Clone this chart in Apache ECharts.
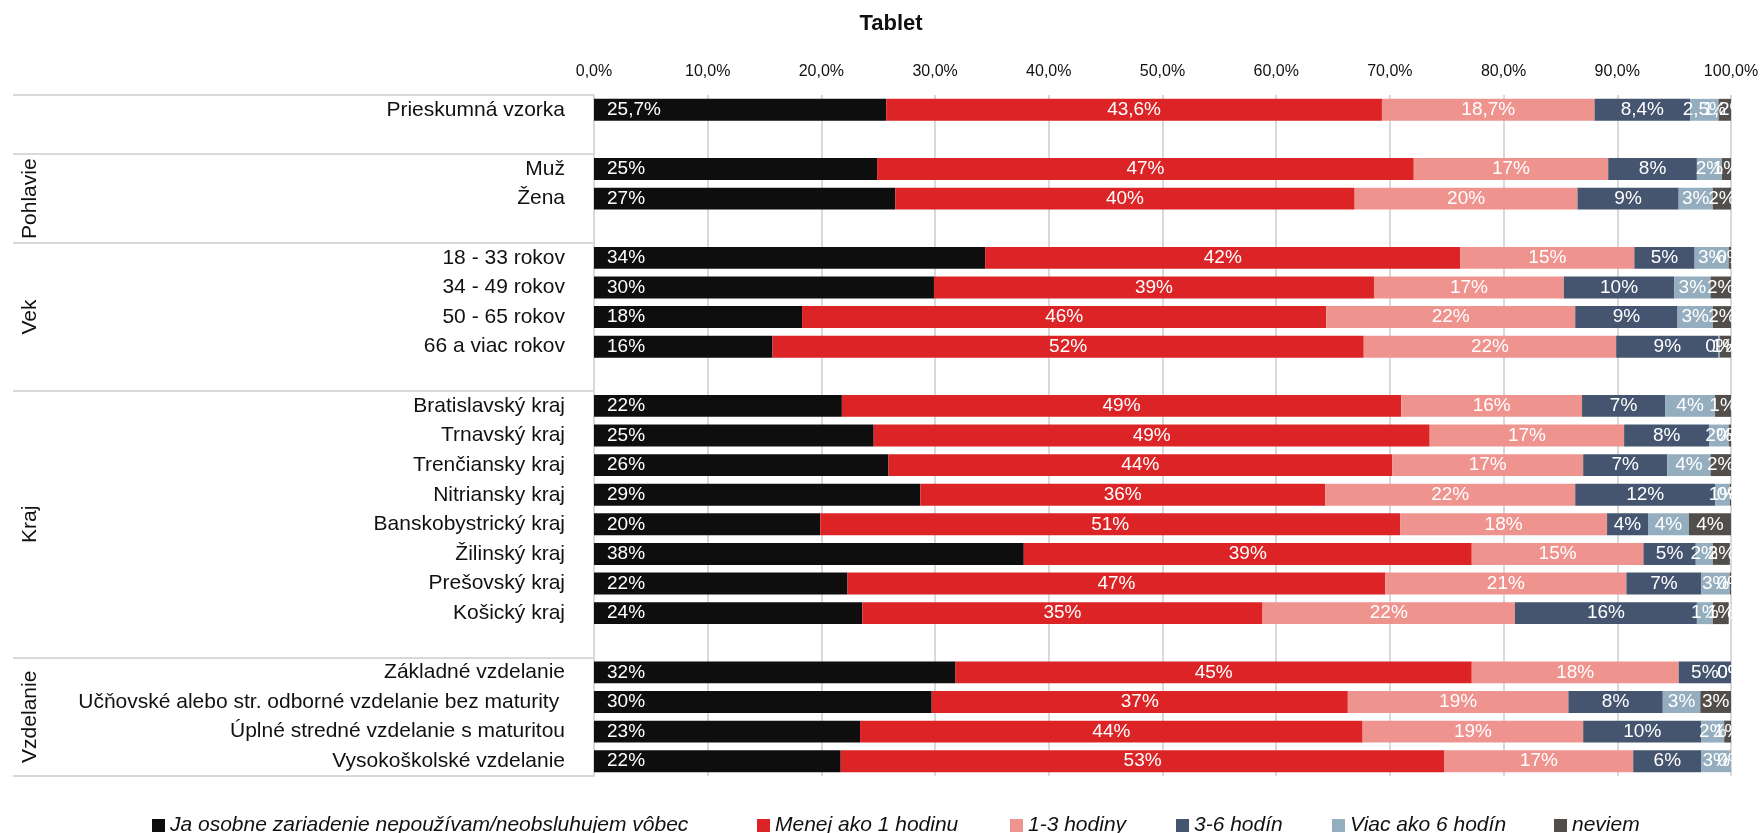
<!DOCTYPE html>
<html>
<head>
<meta charset="utf-8">
<script src="https://cdn.jsdelivr.net/npm/echarts@6/dist/echarts.min.js"></script>
<style>
  html, body { margin: 0; padding: 0; background: #fff; }
  #chart { width: 1760px; height: 833px; }
</style>
</head>
<body>
<div id="chart"></div>
<script>
// ---------- DATA ----------
const chartTitle = 'Tablet';
const groupNames = ['', 'Pohlavie', 'Vek', 'Kraj', 'Vzdelanie'];
const groupRows = [
  ['Prieskumná vzorka'],
  ['Muž', 'Žena'],
  ['18 - 33 rokov', '34 - 49 rokov', '50 - 65 rokov', '66 a viac rokov'],
  ['Bratislavský kraj', 'Trnavský kraj', 'Trenčiansky kraj', 'Nitriansky kraj',
   'Banskobystrický kraj', 'Žilinský kraj', 'Prešovský kraj', 'Košický kraj'],
  ['Základné vzdelanie', 'Učňovské alebo str. odborné vzdelanie bez maturity ',
   'Úplné stredné vzdelanie s maturitou', 'Vysokoškolské vzdelanie']
];
const groupLabelDecimals = [1, 0, 0, 0, 0];
const seriesNames = [
  'Ja osobne zariadenie nepoužívam/neobsluhujem vôbec',
  'Menej ako 1 hodinu',
  '1-3 hodiny',
  '3-6 hodín',
  'Viac ako 6 hodín',
  'neviem'
];
// values in %, rows in the order of groupRows
const notUsing  = [25.7, 24.9, 26.5, 34.4, 29.9, 18.3, 15.7, 21.8, 24.6, 25.9, 28.7, 19.9, 37.8, 22.3, 23.6, 31.8, 29.7, 23.4, 21.7];
const under1h   = [43.6, 47.2, 40.4, 41.8, 38.7, 46.1, 52.0, 49.2, 48.9, 44.3, 35.6, 51.0, 39.4, 47.3, 35.2, 45.4, 36.6, 44.2, 53.1];
const h1to3     = [18.7, 17.1, 19.6, 15.3, 16.7, 21.9, 22.2, 15.9, 17.1, 16.8, 22.0, 18.2, 15.1, 21.2, 22.2, 18.2, 19.4, 19.4, 16.6];
const h3to6     = [8.4, 7.8, 8.9, 5.3, 9.7, 9.0, 9.0, 7.3, 7.5, 7.4, 12.3, 3.6, 4.6, 6.6, 16.0, 4.6, 8.3, 10.4, 6.0];
const over6h    = [2.5, 2.2, 3.0, 3.0, 3.2, 3.1, 0.1, 4.4, 1.7, 3.8, 1.3, 3.6, 1.5, 2.5, 1.4, 0.0, 3.3, 2.0, 2.6];
const dontKnow  = [1.2, 0.8, 1.6, 0.2, 1.8, 1.6, 1.0, 1.4, 0.2, 1.8, 0.1, 3.7, 1.5, 0.1, 1.4, 0.0, 2.7, 0.6, 0.0];
const xTickValues = [0, 10, 20, 30, 40, 50, 60, 70, 80, 90, 100];

// ---------- STYLE ----------
const seriesColors = ['#0e0e0e', '#dc2427', '#ef938f', '#45546f', '#95aebf', '#524e4b'];
const legendLefts = [152, 757, 1010, 1176, 1332, 1554];
const FONT = '"Liberation Sans", Arial, sans-serif';
const gridColor = '#d9d9d9';

// ---------- BUILD ----------
const allValues = [notUsing, under1h, h1to3, h3to6, over6h, dontKnow];
const categories = [];
const rowDecimals = [];
const slotToRow = [];
const groupSlots = [];
const groupStartSlots = [];
let rowIdx = 0;
groupRows.forEach((rows, g) => {
  const start = categories.length;
  groupStartSlots.push(start);
  rows.forEach(r => {
    categories.push(r);
    rowDecimals.push(groupLabelDecimals[g]);
    slotToRow.push(rowIdx++);
  });
  let end = categories.length - 1;
  if (g < groupRows.length - 1) {
    categories.push(' '.repeat(g + 1));
    rowDecimals.push(0);
    slotToRow.push(-1);
    end = categories.length - 1;
  }
  groupSlots.push([start, end]);
});

const series = seriesNames.map((name, s) => ({
  name: name,
  type: 'bar',
  stack: 'total',
  barCategoryGap: '26%',
  itemStyle: { color: seriesColors[s] },
  emphasis: { disabled: true },
  data: slotToRow.map(r => r < 0 ? '-' : allValues[s][r]),
  label: {
    show: true,
    position: s === 0 ? 'insideLeft' : 'inside',
    distance: 13,
    color: '#fff',
    fontFamily: FONT,
    fontSize: 19,
    formatter: p => {
      const d = rowDecimals[p.dataIndex];
      return Number(p.value).toFixed(d).replace('.', ',') + '%';
    }
  }
}));

const legends = seriesNames.map((name, s) => ({
  show: true,
  data: [name],
  left: legendLefts[s],
  top: 815,
  padding: 0,
  icon: 'rect',
  itemWidth: 13,
  itemHeight: 13,
  selectedMode: false,
  textStyle: { fontFamily: FONT, fontSize: 21, fontStyle: 'italic', color: '#111' }
}));

const tickSet = new Set(groupStartSlots);

const option = {
  animation: false,
  backgroundColor: '#fff',
  grid: { left: 594, right: 29, top: 95, bottom: 57, outerBoundsMode: 'none', containLabel: false },
  legend: legends,
  xAxis: {
    type: 'value',
    position: 'top',
    min: 0, max: 100, interval: 10,
    axisLine: { show: false },
    axisTick: { show: false },
    splitLine: { show: true, lineStyle: { color: gridColor, width: 2 } },
    axisLabel: {
      margin: 15,
      fontFamily: FONT, fontSize: 16, color: '#111',
      formatter: v => xTickValues.includes(v) ? v.toFixed(1).replace('.', ',') + '%' : ''
    }
  },
  yAxis: {
    type: 'category',
    inverse: true,
    data: categories,
    axisLine: { show: true, lineStyle: { color: gridColor, width: 2 } },
    axisTick: {
      show: true, inside: false, length: 581,
      interval: (i) => tickSet.has(i),
      lineStyle: { color: gridColor, width: 2 }
    },
    splitLine: { show: false },
    axisLabel: { margin: 29, fontFamily: FONT, fontSize: 21, color: '#111', interval: 0 }
  },
  series: series
};

const chart = echarts.init(document.getElementById('chart'), null, { renderer: 'canvas' });
chart.setOption(option);

const graphics = [{
  type: 'text', x: 891, y: 24,
  style: { text: chartTitle, align: 'center', verticalAlign: 'middle', font: 'bold 22px ' + FONT, fill: '#111' }
}];
groupSlots.forEach((sl, g) => {
  if (!groupNames[g]) return;
  const y0 = chart.convertToPixel({ yAxisIndex: 0 }, sl[0]);
  const y1 = chart.convertToPixel({ yAxisIndex: 0 }, sl[1]);
  graphics.push({
    type: 'text', x: 30, y: (y0 + y1) / 2, rotation: Math.PI / 2,
    style: { text: groupNames[g], align: 'center', verticalAlign: 'middle', font: '21px ' + FONT, fill: '#111' }
  });
});
chart.setOption({ graphic: graphics });
</script>
</body>
</html>
